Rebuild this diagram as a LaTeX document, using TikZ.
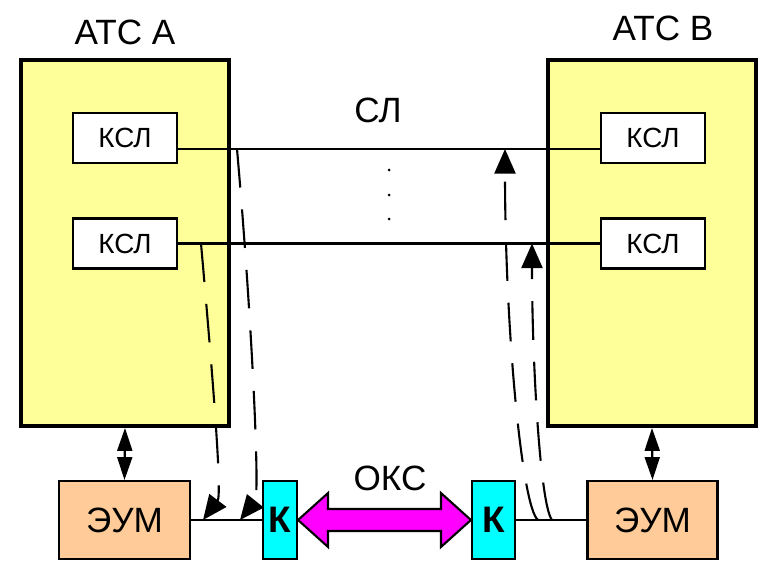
\documentclass[tikz,border=0pt]{standalone}
\usepackage{fontspec}
\setmainfont{Liberation Sans}
\usetikzlibrary{arrows.meta,calc}

\definecolor{atcyellow}{HTML}{FFFF99}
\definecolor{eumpeach}{HTML}{FFCC99}
\definecolor{kcyan}{HTML}{00FFFF}
\definecolor{oksmagenta}{HTML}{FF00FF}
\newcommand{\bigsize}{\fontsize{20}{24}\selectfont}
\newcommand{\kslsize}{\fontsize{15.8}{19}\selectfont}
\newcommand{\ksize}{\fontsize{21}{24}\selectfont\bfseries}

\begin{document}
\begin{tikzpicture}[x=0.02cm,y=-0.02cm]
\useasboundingbox (0,0) rectangle (765,561);

% stations
\begin{scope}[every node/.style={rectangle,draw,line width=2.3pt,fill=atcyellow,
              minimum width=4.16cm,minimum height=7.32cm}]
    \node (A) at (125,243) {};
    \node (B) at (652,243) {};
\end{scope}

\begin{scope}[every node/.style={font=\bigsize}]
    \node (labA) at (125,32)  {АТС А};
    \node (labB) at (663,28)  {АТС В};
    \node (sl)   at (378,110) {СЛ};
    \node (oks)  at (390,478) {ОКС};
\end{scope}

\begin{scope}[every node/.style={rectangle,draw,line width=1.4pt,fill=white,
              minimum width=2.08cm,minimum height=1cm,font=\kslsize}]
    \node (a1) at (125,138)   {КСЛ};
    \node (a2) at (125,243.5) {КСЛ};
    \node (b1) at (653,138)   {КСЛ};
    \node (b2) at (653,243.5) {КСЛ};
\end{scope}

\begin{scope}[every node/.style={rectangle,draw,line width=1.2pt,
              minimum height=1.56cm,inner sep=0pt}]
    \node[fill=eumpeach,minimum width=2.62cm,font=\bigsize] (eA) at (124.5,520) {ЭУМ};
    \node[fill=eumpeach,minimum width=2.6cm,font=\bigsize]  (eB) at (652.5,520) {ЭУМ};
    \node[fill=kcyan,minimum width=0.68cm,font=\ksize] (kA) at (280,520)   {К};
    \node[fill=kcyan,minimum width=0.86cm,font=\ksize] (kB) at (493.5,520) {К};
\end{scope}

% line ends of the signalling paths
\coordinate (s1) at (201,243.5);
\coordinate (t1) at (203,520);
\coordinate (s2) at (237,149);
\coordinate (t2) at (240,520);
\coordinate (s3) at (538,520);
\coordinate (t3) at (505,149);
\coordinate (s4) at (552,520);
\coordinate (t4) at (532,243.5);

\begin{scope}[line width=1.3pt]
    \draw ([yshift=-0.22cm]a1.east) -- ([yshift=-0.22cm]b1.west);
    \draw (a2) -- (b2);
    \draw (eA) -- (kA);
    \draw (kB) -- (eB);
    \foreach \y in {170,195,219}
        \fill (389,\y) circle (1.5);
\end{scope}

\begin{scope}[>={Triangle[length=14pt,width=12pt]},
              line width=1.2pt,
              every path/.style={dash pattern=on 22pt off 12.5pt}]
    \draw [->] (s1) .. controls (214,390) and (222,495) .. (t1);
    \draw [->] (s2) .. controls (252,320) and (260,495) .. (t2);
    \draw [->] (s3) .. controls (522,508) and (505,330) .. (t3);
    \draw [->] (s4) .. controls (540,505) and (532,360) .. (t4);
\end{scope}

% station to computer
\begin{scope}[>={Triangle[length=13pt,width=8.5pt]},line width=1.2pt]
    \draw [<->] (A.south) -- (eA.north);
    \draw [<->] (B.south) -- (eB.north);
\end{scope}

% common channel signalling
\draw[line width=1.2pt,fill=oksmagenta]
    (kA.east) -- ++(30,-27) -- ++(0,16) -- ($(kB.west)+(-30,-11)$) -- ++(0,-16)
    -- (kB.west) -- ++(-30,27) -- ++(0,-16) -- ($(kA.east)+(30,11)$) -- ++(0,16) -- cycle;
\end{tikzpicture}
\end{document}
